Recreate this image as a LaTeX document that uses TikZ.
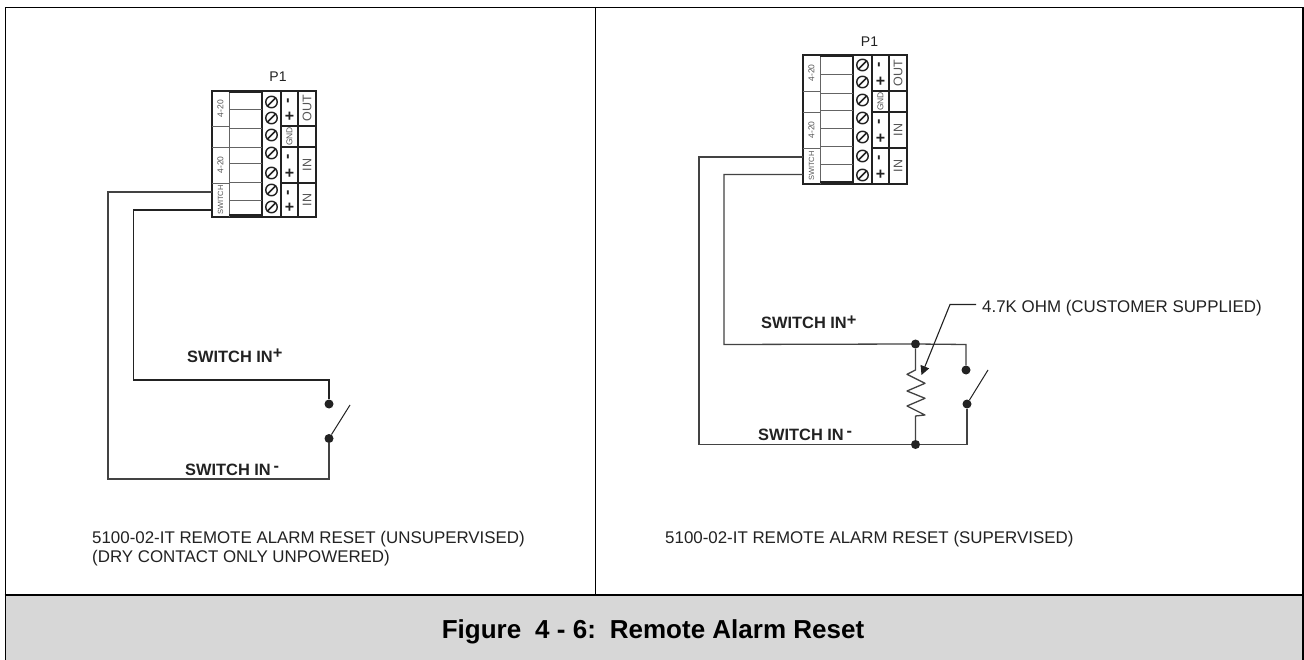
\documentclass[tikz,border=0pt]{standalone}
\usepackage{fontspec}
\usetikzlibrary{arrows.meta}
\setmainfont{Liberation Sans}
\definecolor{band}{HTML}{D7D7D7}
\definecolor{ink}{HTML}{222222}
\definecolor{lab}{HTML}{555555}
\newcommand{\fsz}[1]{\fontsize{#1}{#1}\selectfont}
\tikzset{
  frame/.style={draw=black,line width=1.8pt},
  wire/.style={draw=ink!85,line width=1.3pt,line join=miter},
  heavy/.style={draw=ink,line width=1.9pt,line join=miter},
  cell/.style={draw=ink!70,line width=.9pt},
  thickcell/.style={draw=ink,line width=1.8pt},
  rule/.style={draw=ink,line width=1.5pt},
  screw/.style={circle,draw=ink,line width=1.4pt,minimum size=11.5pt,inner sep=0pt,
     append after command={(\tikzlastnode.225) edge[draw=ink,line width=1.5pt] (\tikzlastnode.45)}},
  dot/.style={circle,fill=ink,minimum size=9pt,inner sep=0pt},
  caption/.style={anchor=base west,inner sep=0pt,text=ink,font=\fsz{16.9}},
  swlabel/.style={anchor=base west,inner sep=0pt,text=ink,font=\fsz{16.4}\bfseries},
  pone/.style={inner sep=0pt,text=ink,font=\fsz{14}},
  vtext/.style={inner sep=0pt,rotate=90,text=lab},
  sign/.style={inner sep=0pt,text=ink,font=\fsz{16}\bfseries},
  vsign/.style={sign,rotate=90},
}
% #1 prefix, #2 x of left edge, #3 top, #4 bottom, #5 col dividers y1, #6 y2, #7 y3
% #8 cell lines list, #9 screw list
\newcommand{\termblock}[9]{%
  \begin{scope}[shift={(#2,0)}]
    \draw[rule] (0,#3) rectangle (104,#4);
    \draw[cell] (17,#3) -- (17,#4);
    \draw[rule] (50,#3) -- (50,#4);
    \draw[rule] (69,#3) -- (69,#4);
    \draw[rule] (86,#3) -- (86,#4);
    \draw[thickcell] (17,#3+1) -- (50,#3+1);
    \draw[thickcell] (17,#4-2) -- (50,#4-2);
    \foreach \yy in {#8} \draw[cell] (17,\yy) -- (50,\yy);
    \foreach \yy in {#5,#6,#7} {
      \draw[cell] (0,\yy) -- (17,\yy);
      \draw[rule] (69,\yy) -- (104,\yy);
    }
    \foreach \yy [count=\i] in {#9}
      \node[screw] (#1s\i) at (59.5,\yy) {};
    \node[vtext,font=\fsz{8.5}] (#1a) at (8.5,{(#3+#5)/2}) {4-20};
    \node[vtext,font=\fsz{8.5}] (#1b) at (8.5,{(#6+#7)/2}) {4-20};
    \node[vtext,font=\fsz{7.5}] (#1c) at (8.5,{(#7+#4)/2}) {SWITCH};
    \node[vtext,font=\fsz{8.5}] (#1d) at (77.5,{(#5+#6)/2}) {GND};
    \node[vtext,font=\fsz{12.5}] (#1e) at (95,{(#3+#5)/2}) {OUT};
    \node[vtext,font=\fsz{12.5}] (#1f) at (95,{(#6+#7)/2}) {IN};
    \node[vtext,font=\fsz{12.5}] (#1g) at (95,{(#7+#4)/2}) {IN};
    \node[vsign] (#1m1) at (77.5,{#3+10}) {-};
    \node[sign] (#1p1) at (77.5,{#5-9}) {+};
    \node[vsign] (#1m2) at (77.5,{#6+10}) {-};
    \node[sign] (#1p2) at (77.5,{#7-9}) {+};
    \node[vsign] (#1m3) at (77.5,{#7+10}) {-};
    \node[sign] (#1p3) at (77.5,{#4-9}) {+};
  \end{scope}}
\begin{document}
\begin{tikzpicture}[x=1pt,y=-1pt]
\useasboundingbox (0,0) rectangle (1304,660);
\fill[white] (0,0) rectangle (1304,660);
\fill[band] (5,595) rectangle (1303,660);
% frame
\draw[frame] (5.5,660) -- (5.5,7.5) -- (1303,7.5) -- (1303,660);
\draw[frame] (595.5,7.5) -- (595.5,595);
\draw[frame,line width=2.2pt] (4.5,595) -- (1303,595);
\node[inner sep=0pt,anchor=base,text=black,font=\fsz{26}\bfseries] (title) at (653,638) {Figure\hspace{14pt}4 - 6:\hspace{14pt}Remote Alarm Reset};

% LEFT
\node[pone] (p1l) at (278,77) {P1};
\termblock{l}{212}{91}{217}{126}{147}{183}{109,128,147,163,182,200}{102,118,135,153,173,190,207}
\coordinate (la) at (212,192);
\coordinate (lb) at (212,210);
\node[dot] (ld1) at (329,404) {};
\node[dot] (ld2) at (329,438.5) {};
\coordinate (larm) at (350,405);
\draw[wire] (la) -- (108,192) -- (108,479) -- (329,479) -- (ld2);
\draw[heavy] (lb) -- (133.5,210) -- (133.5,380) -- (329,380) -- (ld1);
\draw[draw=ink,line width=1pt] (ld2) -- (larm);
\node[swlabel] (lplus) at (187,362.5) {SWITCH IN\raisebox{3.5pt}{+}};
\node[swlabel] (lminus) at (185,475) {SWITCH IN\,\raisebox{4pt}{-}};
\node[caption] (lc1) at (92,543) {5100-02-IT REMOTE ALARM RESET (UNSUPERVISED)};
\node[caption] (lc2) at (92,562) {(DRY CONTACT ONLY UNPOWERED)};

% RIGHT
\node[pone] (p1r) at (869.5,42) {P1};
\termblock{r}{803}{55}{184}{91}{112}{148}{74,93,110,128,146,164}{65,82,100,118,137,156,175}
\coordinate (ra) at (803,157);
\coordinate (rb) at (803,174.5);
\node[dot] (rj1) at (915.5,344) {};
\node[dot] (rj2) at (915.5,444.5) {};
\node[dot] (rd1) at (966,370) {};
\node[dot] (rd2) at (967,404) {};
\coordinate (rarm) at (988,370);
\draw[wire] (ra) -- (699,157) -- (699,444.5) -- (rj2) -- (967,444.5) -- (rd2);
\draw[wire] (rb) -- (724,174.5) -- (724,344.5) -- (rj1) -- (966,344.5) -- (rd1);
\draw[draw=ink,line width=1pt] (rd2) -- (rarm);
\draw[wire,line join=round] (rj1) -- (915.5,370) -- (907,374.3) -- (925,383.3) -- (907,391) -- (925,398.3) -- (907,406) -- (925,415) -- (915.5,416) -- (rj2);
\node[caption] (rlabel) at (982,313) {4.7K OHM (CUSTOMER SUPPLIED)};
\coordinate (rs) at (976,304.5);
\coordinate (rk) at (950,304.5);
\coordinate (rt) at (921.5,375);
\draw[draw=ink,line width=1.1pt,-{Triangle[length=9pt,width=9pt]}] (rs) -- (rk) -- (rt);
\node[swlabel] (rplus) at (761,329) {SWITCH IN\raisebox{3.5pt}{+}};
\node[swlabel] (rminus) at (758,440) {SWITCH IN\,\raisebox{4pt}{-}};
\node[caption] (rc1) at (665,543) {5100-02-IT REMOTE ALARM RESET (SUPERVISED)};
\end{tikzpicture}
\end{document}
